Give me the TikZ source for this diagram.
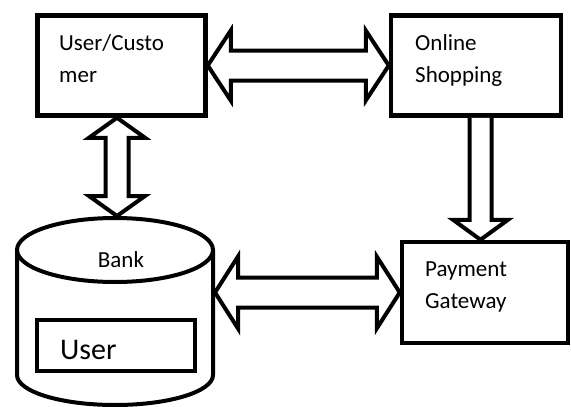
\documentclass[tikz,border=0pt]{standalone}
\usepackage{fontspec}
\setmainfont{Carlito}
\usetikzlibrary{calc,positioning}
\tikzset{
 flowchart/.style={line join=miter,text=black},
 box/.style={rectangle,draw=black,fill=white,line width=4.5pt,inner sep=0pt},
 drum/.style={draw=black,line width=4pt},
 blockarrow/.style={draw=black,fill=white,line width=4pt,line join=miter},
 lbl/.style={font=\fontsize{23}{32}\selectfont,align=left,inner sep=0pt},
 biglbl/.style={font=\fontsize{30}{36}\selectfont,inner sep=0pt}
}
% #1 from, #2 to, #3 shaft half width, #4 head half width, #5 head length
\newcommand{\dblArrow}[5]{%
 \draw[blockarrow] let \p1=($(#2)-(#1)$), \n1={veclen(\x1,\y1)}, \n2={atan2(\y1,\x1)} in
  [shift={(#1)},rotate=\n2] (0pt,0pt) -- (#5pt,#4pt) -- (#5pt,#3pt) -- (\n1-#5pt,#3pt)
  -- (\n1-#5pt,#4pt) -- (\n1,0pt) -- (\n1-#5pt,-#4pt) -- (\n1-#5pt,-#3pt)
  -- (#5pt,-#3pt) -- (#5pt,-#4pt) -- cycle;}
\newcommand{\oneArrow}[5]{%
 \draw[blockarrow] let \p1=($(#2)-(#1)$), \n1={veclen(\x1,\y1)}, \n2={atan2(\y1,\x1)} in
  [shift={(#1)},rotate=\n2] (0pt,#3pt) -- (\n1-#5pt,#3pt)
  -- (\n1-#5pt,#4pt) -- (\n1,0pt) -- (\n1-#5pt,-#4pt) -- (\n1-#5pt,-#3pt) -- (0pt,-#3pt);}

\begin{document}
\begin{tikzpicture}[flowchart,x=1pt,y=-1pt]
 \useasboundingbox (0,0) rectangle (571,407);
 % boxes
 \node[box,minimum width=168pt,minimum height=100pt] (user) at (121.5,65.5) {};
 \node[box,minimum width=170pt,minimum height=100pt] (shop) at (476,65.5) {};
 \node[box,minimum width=166pt,minimum height=101pt] (pay) at (485,292.5) {};
 % bank drum
 \draw[drum] (17,250) -- (17,375) arc[start angle=180,end angle=0,x radius=98,y radius=30] -- (213,250);
 \draw[drum] (115,250) ellipse[x radius=98,y radius=32];
 \coordinate (bankTop) at (117,216);
 \coordinate (bankE) at (215,292.5);
 \node[box,minimum width=158pt,minimum height=51pt] (acct) at (116,345.5) {};
 % texts (base = last line)
 \node[lbl,anchor=base west] (userTxt) at (59,82) {User/Custo\\mer};
 \node[lbl,anchor=base west] (shopTxt) at (415,82) {Online\\Shopping};
 \node[lbl,anchor=base west] (payTxt) at (425,308) {Payment\\Gateway};
 \node[lbl,anchor=base] (bankTxt) at (121,267) {Bank};
 \node[biglbl,anchor=base west] (acctTxt) at (60,359) {User};
 % arrows
 \coordinate (ubA) at (user.south -| bankTop);
 \dblArrow{ubA}{bankTop}{11.5}{28}{20}
 \dblArrow{user.east}{shop.west}{15}{35}{23}
 \dblArrow{bankE}{pay.west}{15}{36}{23}
 \coordinate (spMid) at ($(shop.south)!.5!(pay.north)$);
 \coordinate (spA) at (shop.south -| spMid);
 \coordinate (spB) at (pay.north -| spMid);
 \oneArrow{spA}{spB}{11}{27.5}{20}
\end{tikzpicture}
\end{document}
